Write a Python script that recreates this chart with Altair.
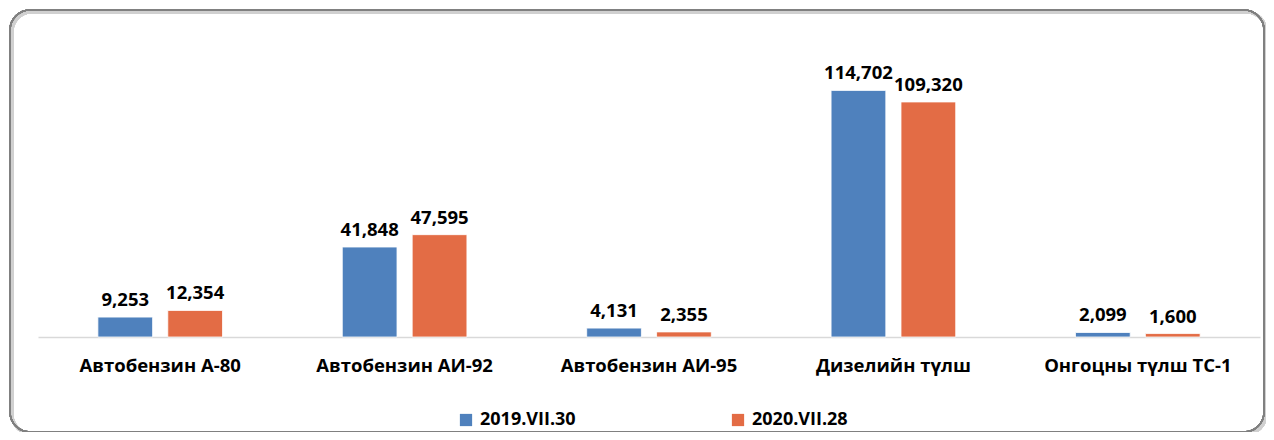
import altair as alt
import pandas as pd

categories = ["Автобензин А-80", "Автобензин АИ-92", "Автобензин АИ-95", "Дизелийн түлш", "Онгоцны түлш ТС-1"]
series_names = ["2019.VII.30", "2020.VII.28"]
values_2019 = [9253, 41848, 4131, 114702, 2099]
values_2020 = [12354, 47595, 2355, 109320, 1600]
colors = ["#4F81BD", "#E36C45"]

rows = []
for c, a, b in zip(categories, values_2019, values_2020):
    rows.append({"cat": c, "series": series_names[0], "value": a})
    rows.append({"cat": c, "series": series_names[1], "value": b})
df = pd.DataFrame(rows)

FONT = "Open Sans"

xenc = alt.X("cat:N", sort=categories, title=None,
             scale=alt.Scale(paddingInner=0.49, paddingOuter=0.245),
             axis=alt.Axis(labelAngle=0, labelFont=FONT, labelFontSize=18.5, labelFontWeight="bold",
                           labelColor="#000000", labelPadding=19, ticks=False, labelLimit=400,
                           domainColor="#D9D9D9", domainWidth=1.5))
yenc = alt.Y("value:Q", scale=alt.Scale(domain=[0, 140000]), axis=None)
xoff = alt.XOffset("series:N", sort=series_names, scale=alt.Scale(paddingInner=0.217, paddingOuter=0))

base = alt.Chart(df)

bars = base.mark_bar(stroke="white", strokeWidth=0.8).encode(
    x=xenc, y=yenc, xOffset=xoff,
    color=alt.Color("series:N", sort=series_names,
                    scale=alt.Scale(domain=series_names, range=colors),
                    legend=alt.Legend(title=None, orient="none", legendX=419, legendY=375,
                                      direction="horizontal", symbolType="square", symbolSize=150,
                                      symbolStrokeWidth=0, labelFont=FONT, labelFontSize=18,
                                      labelFontWeight="bold", labelColor="#000000",
                                      columnPadding=153, labelOffset=5, labelLimit=300)),
)

labels = base.mark_text(dy=-17, font=FONT, fontSize=18.5, fontWeight="bold", color="#000000").encode(
    x=xenc, y=yenc, xOffset=xoff,
    text=alt.Text("value:Q", format=","),
)

border_shadow = alt.Chart(df).mark_rect(cornerRadius=20, fillOpacity=0, stroke="#D0D0D0", strokeWidth=3).encode(
    x=alt.value(-26), x2=alt.value(1228), y=alt.value(-24), y2=alt.value(398)
)
border = alt.Chart(df).mark_rect(cornerRadius=20, fillOpacity=0, stroke="#808080", strokeWidth=1.5).encode(
    x=alt.value(-28), x2=alt.value(1226), y=alt.value(-26), y2=alt.value(396)
)

chart = alt.layer(border_shadow, border, bars, labels).properties(
    width=1222, height=301,
    autosize=alt.AutoSizeParams(type="none"),
    padding={"left": 30, "top": 28, "right": 6, "bottom": 95},
    background="white",
).configure_view(stroke=None)

chart.save("out.html", embed_options={"renderer": "svg", "actions": False})
